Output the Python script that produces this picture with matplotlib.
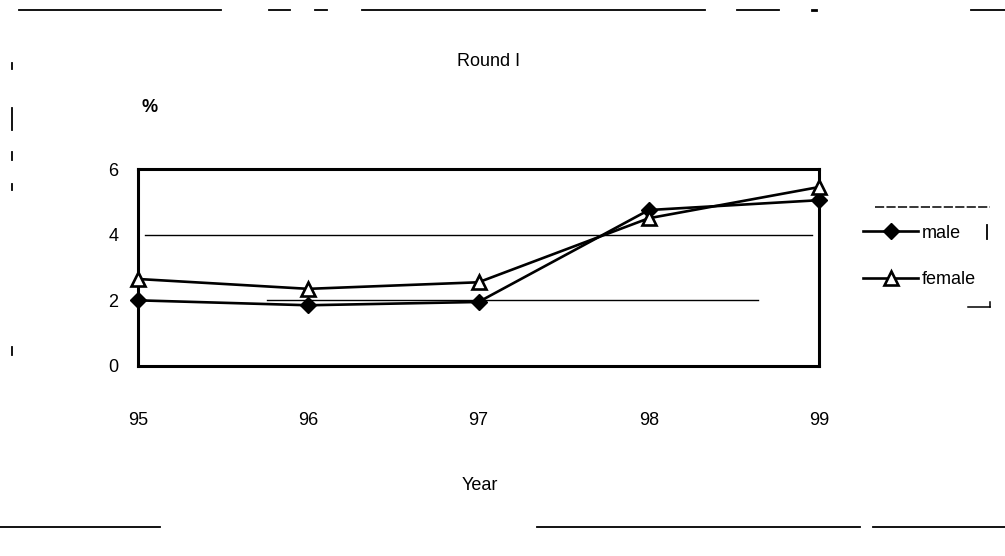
import matplotlib
matplotlib.use("Agg")
import matplotlib.pyplot as plt
from matplotlib.lines import Line2D

plt.rcParams['font.family'] = ['Liberation Sans', 'DejaVu Sans']

years = [95, 96, 97, 98, 99]
year_labels = ["95", "96", "97", "98", "99"]
male = [2.0, 1.85, 1.95, 4.75, 5.05]
female = [2.65, 2.35, 2.55, 4.5, 5.45]
yticks = [0, 2, 4, 6]

W, H = 1005, 556
fig = plt.figure(figsize=(W / 100, H / 100), dpi=100)
ax = fig.add_axes([138 / W, 1 - 366 / H, (819 - 138) / W, (366 - 169) / H])

ax.axhline(4, xmin=0.01, xmax=0.99, color='black', lw=1.0, zorder=1)
ax.axhline(2, xmin=0.19, xmax=0.91, color='black', lw=1.0, zorder=1)

ax.plot(years, male, color='black', lw=1.9, marker='D', ms=8, mfc='black', mec='black',
        label='male', zorder=3, clip_on=False)
ax.plot(years, female, color='black', lw=1.9, marker='^', ms=9.5, mfc='white', mec='black',
        mew=1.9, label='female', zorder=4, clip_on=False)

ax.set_xlim(95, 99)
ax.set_ylim(0, 6)
ax.set_xticks(years)
ax.set_xticklabels(year_labels)
ax.set_yticks(yticks)
ax.tick_params(length=0, labelsize=13)
ax.tick_params(axis='x', pad=33)
ax.tick_params(axis='y', pad=14)
for s in ax.spines.values():
    s.set_linewidth(2.2)
    s.set_color('black')

fig.text(489 / W, 1 - 61 / H, "Round I", ha='center', va='center', fontsize=13)
fig.text(150 / W, 1 - 108 / H, "%", ha='center', va='center', fontsize=13, fontweight='bold')
fig.text(480 / W, 1 - 486 / H, "Year", ha='center', va='center', fontsize=13)

leg = ax.legend(loc='center left', bbox_to_anchor=(1.052, 0.556), frameon=False,
                fontsize=13, handlelength=3.0, handletextpad=0.25, labelspacing=1.65,
                borderpad=0)

# scan artifacts: rule lines at top and bottom, small marks
def hline(x0, x1, y, lw=1.3, ls='-'):
    fig.add_artist(Line2D([x0 / W, x1 / W], [1 - y / H, 1 - y / H], color='black', lw=lw, ls=ls))

def vline(x, y0, y1, lw=1.3):
    fig.add_artist(Line2D([x / W, x / W], [1 - y0 / H, 1 - y1 / H], color='black', lw=lw))

hline(19, 221, 10)
hline(269, 290, 10)
hline(315, 327, 10)
hline(362, 705, 10)
hline(737, 779, 10)
hline(812, 816, 10, lw=2)
hline(971, 1005, 10)
hline(0, 160, 527)
hline(537, 860, 527)
hline(873, 1005, 527)
hline(875, 990, 207, lw=1.1, ls=(0, (6, 1.5)))
vline(987, 225, 239, lw=1.3)
hline(968, 990, 307, lw=1.1)
vline(990, 302, 307, lw=1.1)
vline(12, 63, 69)
vline(12, 108, 130)
vline(12, 152, 160)
vline(12, 184, 190)
vline(12, 347, 355)

fig.savefig("out.png", dpi=100)
